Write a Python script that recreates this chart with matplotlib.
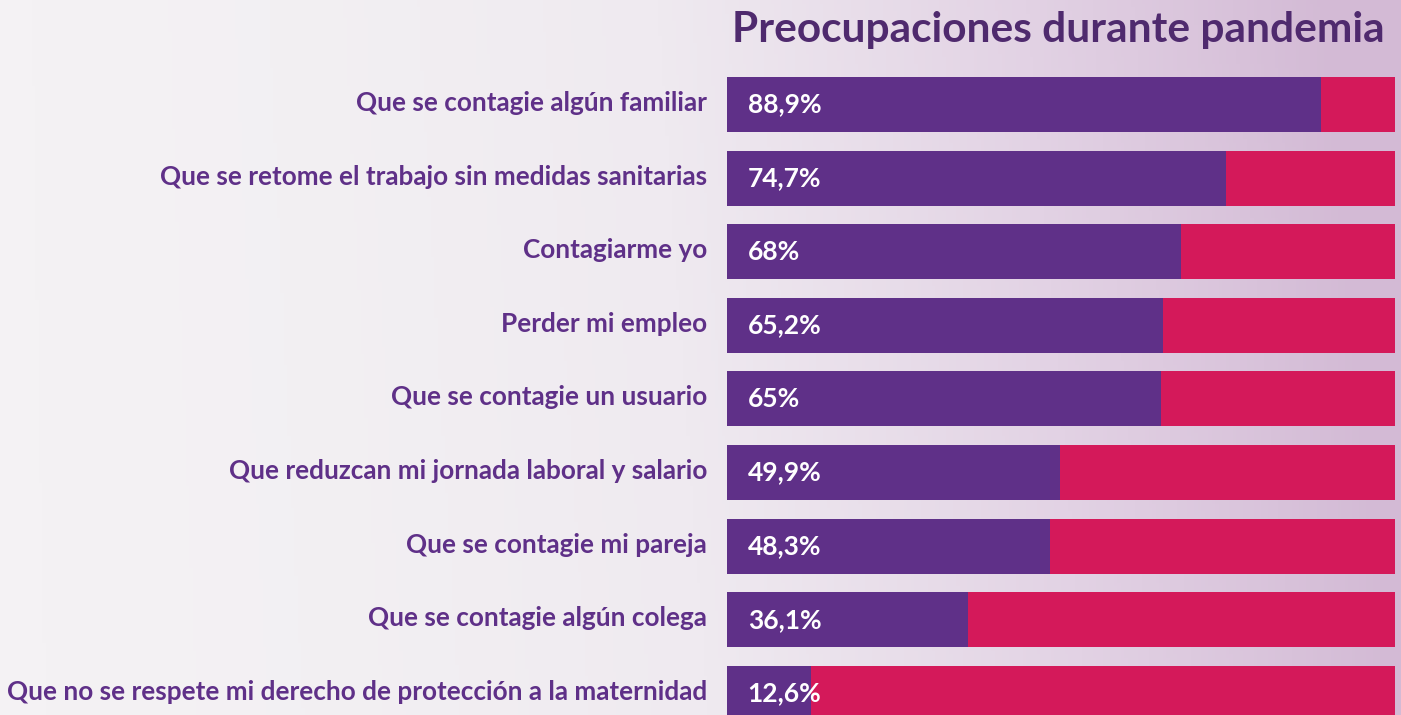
import numpy as np
import matplotlib
matplotlib.use("Agg")
import matplotlib.pyplot as plt
from matplotlib.colors import LinearSegmentedColormap

# data
categorias = [
    "Que se contagie algún familiar",
    "Que se retome el trabajo sin medidas sanitarias",
    "Contagiarme yo",
    "Perder mi empleo",
    "Que se contagie un usuario",
    "Que reduzcan mi jornada laboral y salario",
    "Que se contagie mi pareja",
    "Que se contagie algún colega",
    "Que no se respete mi derecho de protección a la maternidad",
]
valores = [88.9, 74.7, 68, 65.2, 65, 49.9, 48.3, 36.1, 12.6]
etiquetas = ["88,9%", "74,7%", "68%", "65,2%", "65%", "49,9%", "48,3%", "36,1%", "12,6%"]
titulo = "Preocupaciones durante pandemia"

morado = "#5f3088"
rojo = "#d4195a"
morado_titulo = "#4f2a6e"

W, H = 1401, 715
fig = plt.figure(figsize=(W / 100, H / 100), dpi=100)

# fondo degradado
bg = fig.add_axes([0, 0, 1, 1], zorder=0)
cmap = LinearSegmentedColormap.from_list("bg", ["#f4f2f4", "#efeaf0", "#e2d2e4", "#d3bad5"])
gx = np.linspace(0, 1, 400)
gy = np.linspace(0, 1, 200)[:, None]
grad = np.clip(gx[None, :] ** 1.6 + 0.08 * (1 - gy) * gx[None, :], 0, 1)
bg.imshow(grad, cmap=cmap, aspect="auto", extent=[0, 1, 0, 1])
bg.axis("off")

# barras
x0, x1 = 727 / W, 1395 / W
ax = fig.add_axes([x0, 0, x1 - x0, 1], zorder=1)
ax.patch.set_alpha(0)
y = np.arange(len(categorias))
resto = [100 - v for v in valores]
ax.barh(y, valores, height=0.747, color=morado, edgecolor="none")
ax.barh(y, resto, left=valores, height=0.747, color=rojo, edgecolor="none")
ax.set_xlim(0, 100)
ax.set_ylim(8.295, -1.42)
ax.axis("off")

for i, (cat, lab) in enumerate(zip(categorias, etiquetas)):
    ax.text(3.1, i, lab, color="white", fontsize=19, fontweight="bold",
            family="Lato", va="center", ha="left")
    ax.text(-3.0, i - 0.02, cat, color=morado, fontsize=18.8, fontweight="bold",
            family="Lato", va="center", ha="right")

fig.text(1385 / W, 1 - 30 / H, titulo, color=morado_titulo, fontsize=30.5,
         fontweight="bold", family="Lato", ha="right", va="center")

fig.savefig("out.png", dpi=100)
